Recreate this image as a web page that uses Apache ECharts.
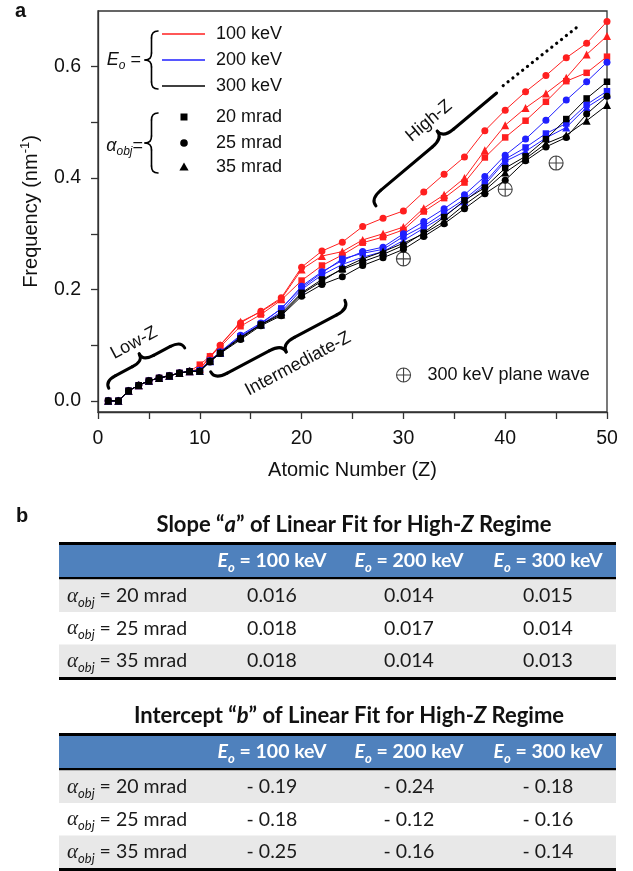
<!DOCTYPE html>
<html><head><meta charset="utf-8">
<script src="https://cdn.jsdelivr.net/npm/echarts@6/dist/echarts.min.js"></script>
<style>html,body{margin:0;padding:0;background:#fff}#c{width:633px;height:871px}</style>
</head><body><div id="c"></div>
<script>
// ---------- data ----------
const Z = [1,2,3,4,5,6,7,8,9,10,11,12,14,16,18,20,22,24,26,28,30,32,34,36,38,40,42,44,46,48,50];
const red20   = [0,0,0.018,0.028,0.036,0.041,0.045,0.050,0.053, 0.065,0.080,0.097,0.134,0.155,0.181,0.216,0.243,0.262,0.284,0.294,0.307,0.340,0.364,0.392,0.437,0.473,0.503,0.537,0.574,0.589,0.618];
const red25   = [0,0,0.018,0.028,0.036,0.041,0.045,0.050,0.053, 0.057,0.078,0.100,0.140,0.161,0.185,0.240,0.269,0.285,0.313,0.328,0.341,0.375,0.407,0.438,0.485,0.522,0.555,0.584,0.616,0.642,0.681];
const red35   = [0,0,0.018,0.028,0.036,0.041,0.045,0.050,0.053, 0.057,0.080,0.100,0.142,0.160,0.183,0.236,0.260,0.268,0.289,0.300,0.312,0.346,0.370,0.400,0.450,0.495,0.526,0.552,0.580,0.622,0.655];
const blue20  = [0,0,0.018,0.028,0.036,0.041,0.045,0.050,0.053, 0.055,0.072,0.087,0.116,0.138,0.166,0.203,0.230,0.255,0.265,0.272,0.295,0.314,0.338,0.362,0.392,0.434,0.455,0.480,0.498,0.532,0.556];
const blue25  = [0,0,0.018,0.028,0.036,0.041,0.045,0.050,0.053, 0.055,0.072,0.088,0.118,0.140,0.165,0.206,0.232,0.252,0.268,0.276,0.300,0.322,0.345,0.370,0.403,0.441,0.470,0.504,0.540,0.573,0.608];
const blue35  = [0,0,0.018,0.028,0.036,0.041,0.045,0.050,0.053, 0.054,0.071,0.086,0.114,0.137,0.160,0.200,0.226,0.245,0.258,0.268,0.288,0.310,0.332,0.358,0.388,0.430,0.448,0.472,0.491,0.527,0.550];
const black20 = [0,0,0.018,0.028,0.036,0.041,0.045,0.050,0.053, 0.053,0.071,0.086,0.112,0.137,0.157,0.194,0.218,0.236,0.250,0.263,0.279,0.302,0.330,0.360,0.383,0.418,0.439,0.470,0.506,0.543,0.573];
const black25 = [0,0,0.018,0.028,0.036,0.041,0.045,0.050,0.053, 0.053,0.070,0.085,0.110,0.135,0.153,0.188,0.209,0.223,0.243,0.257,0.272,0.295,0.318,0.345,0.372,0.396,0.431,0.456,0.473,0.515,0.547];
const black35 = [0,0,0.018,0.028,0.036,0.041,0.045,0.050,0.053, 0.054,0.072,0.087,0.114,0.137,0.155,0.192,0.215,0.238,0.255,0.268,0.283,0.300,0.322,0.352,0.378,0.410,0.435,0.462,0.477,0.503,0.531];
const planeZ = [30,40,45];
const planeF = [0.255,0.380,0.427];
const trendZ = [39.8,47.4];
const trendF = [0.566,0.676];
const xTicks = [0,5,10,15,20,25,30,35,40,45,50];
const xLabels = [0,10,20,30,40,50];
const yTicks = [0,0.1,0.2,0.3,0.4,0.5,0.6];
const yLabels = [0,0.2,0.4,0.6];
const energies = ['100 keV','200 keV','300 keV'];
const apertures = ['20 mrad','25 mrad','35 mrad'];
const slopeA = [['0.016','0.014','0.015'],['0.018','0.017','0.014'],['0.018','0.014','0.013']];
const interceptB = [['- 0.19','- 0.24','- 0.18'],['- 0.18','- 0.12','- 0.16'],['- 0.25','- 0.16','- 0.14']];

// ---------- style ----------
const FONT = '"Liberation Sans", Arial, sans-serif';
const TFONT = 'Lato, "Open Sans", sans-serif';
const RED = '#ff1f1f', BLUE = '#1f1fff', BLACK = '#000000';
const PW = 'path://M10,0 A10,10 0 1,1 10,20 A10,10 0 1,1 10,0 Z M10,0 L10,20 M0,10 L20,10';

const chart = echarts.init(document.getElementById('c'));

const defs = [
  [red20, RED, 'rect'], [red25, RED, 'circle'], [red35, RED, 'triangle'],
  [blue20, BLUE, 'rect'], [blue25, BLUE, 'circle'], [blue35, BLUE, 'triangle'],
  [black20, BLACK, 'rect'], [black25, BLACK, 'circle'], [black35, BLACK, 'triangle']
];
const SYM = {rect: 6.5, circle: 7, triangle: 8};
const series = defs.map((d, k) => ({
  type: 'line', name: 's' + k,
  data: Z.map((z, i) => [z, d[0][i]]),
  symbol: d[2], symbolSize: SYM[d[2]], showSymbol: true,
  lineStyle: {color: d[1], width: 1},
  itemStyle: {color: d[1]},
  emphasis: {disabled: true}, silent: true, z: 2 + k
}));
series.push({
  type: 'line', name: 'trend', data: trendZ.map((z, i) => [z, trendF[i]]),
  symbol: 'none', lineStyle: {color: '#000', width: 3.2, type: [0.1, 6.1], cap: 'round'},
  silent: true, z: 15
});
series.push({
  type: 'scatter', name: '300 keV plane wave', data: planeZ.map((z, i) => [z, planeF[i]]),
  symbol: PW, symbolSize: 14,
  itemStyle: {color: 'rgba(0,0,0,0)', borderColor: '#111', borderWidth: 1.1},
  silent: true, z: 20
});

// ---------- graphics ----------
const G = [];
function T(x, y, text, o) {
  o = o || {};
  G.push({type: 'text', x: x, y: y, rotation: (o.rot || 0) * Math.PI / 180, silent: true, z: 100,
    style: Object.assign({text: text, fill: '#111', fontSize: 18, fontFamily: FONT,
      align: o.align || 'left', verticalAlign: 'middle', textAlign: o.align || 'left', textVerticalAlign: 'middle'}, o.style || {})});
}
function st(w) { return {stroke: '#000', lineWidth: w, fill: null, lineCap: 'round'}; }
function brace(cx, cy, rot, L1, L2, D, r, w, rightTip) {
  const ch = [];
  ch.push({type: 'bezierCurve', shape: {x1: -L1, y1: D, cpx1: -L1, cpy1: D * 0.25, cpx2: -L1 + r * 0.35, cpy2: 0, x2: -L1 + r, y2: 0}, style: st(w)});
  ch.push({type: 'line', shape: {x1: -L1 + r, y1: 0, x2: -r, y2: 0}, style: st(w)});
  ch.push({type: 'bezierCurve', shape: {x1: -r, y1: 0, cpx1: -r * 0.35, cpy1: 0, cpx2: 0, cpy2: -D * 0.25, x2: 0, y2: -D}, style: st(w)});
  ch.push({type: 'bezierCurve', shape: {x1: 0, y1: -D, cpx1: 0, cpy1: -D * 0.25, cpx2: r * 0.35, cpy2: 0, x2: r, y2: 0}, style: st(w)});
  if (rightTip) {
    ch.push({type: 'line', shape: {x1: r, y1: 0, x2: L2 - r, y2: 0}, style: st(w)});
    ch.push({type: 'bezierCurve', shape: {x1: L2 - r, y1: 0, cpx1: L2 - r * 0.35, cpy1: 0, cpx2: L2, cpy2: D * 0.25, x2: L2, y2: D}, style: st(w)});
  } else {
    ch.push({type: 'line', shape: {x1: r, y1: 0, x2: L2, y2: 0}, style: st(w)});
  }
  G.push({type: 'group', x: cx, y: cy, rotation: rot * Math.PI / 180, silent: true, z: 90, children: ch});
}

// panel letters
T(15, 11, 'a', {style: {fontWeight: 'bold', fontSize: 20}});
T(16, 516, 'b', {style: {fontWeight: 'bold', fontSize: 20}});

// legend upper-left
const RICHL = {
  e: {fontStyle: 'italic', fontSize: 18, fontFamily: FONT, fill: '#111'},
  a: {fontStyle: 'italic', fontSize: 18, fontFamily: FONT, fill: '#111'},
  s: {fontStyle: 'italic', fontSize: 12, fontFamily: FONT, fill: '#111', padding: [12, 0, 0, 0]},
  n: {fontSize: 18, fontFamily: FONT, fill: '#111'}
};
T(141, 60, '{e|E}{s|o}{n| =}', {align: 'right', style: {rich: RICHL}});
T(143, 146, '{a|α}{s|obj}{n|=}', {align: 'right', style: {rich: RICHL}});
brace(151.5, 60, 90, 29, 29, 6.5, 7, 1.6, true);
brace(151.5, 143, 90, 30, 30, 6.5, 7, 1.6, true);
[[RED, 34], [BLUE, 60], [BLACK, 86]].forEach((c, i) => {
  G.push({type: 'line', silent: true, z: 95, shape: {x1: 162, y1: c[1], x2: 205, y2: c[1]}, style: {stroke: c[0], lineWidth: 1.3}});
  T(216, c[1], energies[i]);
});
G.push({type: 'rect', silent: true, z: 95, shape: {x: 180.5, y: 113.5, width: 7, height: 7}, style: {fill: '#000'}});
G.push({type: 'circle', silent: true, z: 95, shape: {cx: 184, cy: 143, r: 3.8}, style: {fill: '#000'}});
G.push({type: 'polygon', silent: true, z: 95, shape: {points: [[184, 162.5], [188.6, 170.5], [179.4, 170.5]]}, style: {fill: '#000'}});
[117, 143, 167].forEach((y, i) => T(216, y, apertures[i]));

// region annotations
brace(143, 361, 28, 43, 43, 8, 12, 3, true);
T(134, 343, 'Low-Z', {rot: 28, align: 'center'});
brace(282, 344, 208, 76, 76, 9, 14, 3, true);
T(298, 364, 'Intermediate-Z', {rot: 28, align: 'center'});
brace(443, 138, 40, 95, 70, 9, 14, 3, false);
T(429, 121, 'High-Z', {rot: 40, align: 'center'});

// tables
const TL = 59, TW = 557, COLX = [272, 409, 548], HEAD = '#4f81bd', GRAY = '#e8e8e8';
function rect(x, y, w, h, f) { G.push({type: 'rect', silent: true, z: 50, shape: {x: x, y: y, width: w, height: h}, style: {fill: f}}); }
const RICHH = {
  e: {fontStyle: 'italic', fontWeight: 'bold', fontSize: 19.5, fontFamily: TFONT, fill: '#fff'},
  s: {fontStyle: 'italic', fontWeight: 'bold', fontSize: 13, fontFamily: TFONT, fill: '#fff', padding: [13, 0, 0, 0]},
  t: {fontWeight: 'bold', fontSize: 19.5, fontFamily: TFONT, fill: '#fff'}
};
const RICHR = {
  a: {fontStyle: 'italic', fontSize: 21, fontFamily: '"Liberation Serif", serif', fill: '#1a1a1a'},
  s: {fontStyle: 'italic', fontSize: 13, fontFamily: TFONT, fill: '#1a1a1a', padding: [13, 0, 0, 0]},
  t: {fontSize: 19.5, fontFamily: TFONT, fill: '#1a1a1a'}
};
const RICHT = {
  b: {fontWeight: 'bold', fontSize: 22, fontFamily: TFONT, fill: '#111'},
  i: {fontWeight: 'bold', fontStyle: 'italic', fontSize: 22, fontFamily: TFONT, fill: '#111'}
};
function table(top, titleX, title, vals) {
  rect(TL, top, TW, 3, '#000');
  rect(TL, top + 3, TW, 32, HEAD);
  rect(TL, top + 35, TW, 2.5, '#000');
  for (let i = 0; i < 3; i++) rect(TL, top + 37.5 + 32.5 * i, TW, 32.5, i % 2 ? '#fff' : GRAY);
  rect(TL, top + 135, TW, 3, '#000');
  T(titleX, top - 17, title, {align: 'center', style: {rich: RICHT}});
  energies.forEach((e, j) => T(COLX[j], top + 19, '{e|E}{s|o}{t| = ' + e + '}', {align: 'center', style: {rich: RICHH}}));
  apertures.forEach((a, i) => {
    const y = top + 37.5 + 32.5 * i + 16.5;
    T(67, y, '{a|α}{s|obj}{t| = ' + a + '}', {style: {rich: RICHR}});
    vals[i].forEach((v, j) => T(COLX[j], y, v, {align: 'center', style: {fontFamily: TFONT, fontSize: 19.5, fill: '#1a1a1a'}}));
  });
}
table(542, 354, '{b|Slope “}{i|a}{b|” of Linear Fit for High-}{i|Z}{b| Regime}', slopeA);
table(733, 349, '{b|Intercept “}{i|b}{b|” of Linear Fit for High-}{i|Z}{b| Regime}', interceptB);

chart.setOption({
  animation: false,
  textStyle: {fontFamily: FONT},
  grid: {left: 98, top: 11, width: 509, height: 401, show: true, borderColor: '#333', borderWidth: 1.3, backgroundColor: 'rgba(0,0,0,0)'},
  legend: {
    data: [{name: '300 keV plane wave', icon: PW, itemStyle: {color: 'rgba(0,0,0,0)', borderColor: '#111', borderWidth: 1.1}}],
    left: 396, top: 366, padding: 0, itemWidth: 14, itemHeight: 14, selectedMode: false,
    textStyle: {fontSize: 18, color: '#111', fontFamily: FONT, padding: [0, 0, 0, 12]}
  },
  xAxis: {
    type: 'value', min: 0, max: 50,
    name: 'Atomic Number (Z)', nameLocation: 'middle', nameGap: 48,
    nameTextStyle: {fontSize: 20, color: '#111', fontFamily: FONT},
    axisLine: {show: true, onZero: false, lineStyle: {color: '#333', width: 1.3}},
    axisTick: {show: true, inside: false, length: 7, customValues: xTicks, lineStyle: {color: '#333', width: 1.3}},
    axisLabel: {customValues: xLabels, fontSize: 19.5, color: '#111', margin: 17, fontFamily: FONT},
    splitLine: {show: false}
  },
  yAxis: {
    type: 'value', min: -0.02, max: 0.7,
    name: 'Frequency (nm{sup|-1})', nameLocation: 'middle', nameGap: 55,
    nameTextStyle: {fontSize: 20, color: '#111', fontFamily: FONT, rich: {sup: {fontSize: 13, color: '#111', fontFamily: FONT, padding: [0, 0, 11, 0]}}},
    axisLine: {show: true, onZero: false, lineStyle: {color: '#333', width: 1.3}},
    axisTick: {show: true, inside: false, length: 7, customValues: yTicks, lineStyle: {color: '#333', width: 1.3}},
    axisLabel: {customValues: yLabels, fontSize: 19.5, color: '#111', margin: 17, fontFamily: FONT, formatter: v => v.toFixed(1)},
    splitLine: {show: false}
  },
  series: series,
  graphic: {elements: G}
});
</script></body></html>
